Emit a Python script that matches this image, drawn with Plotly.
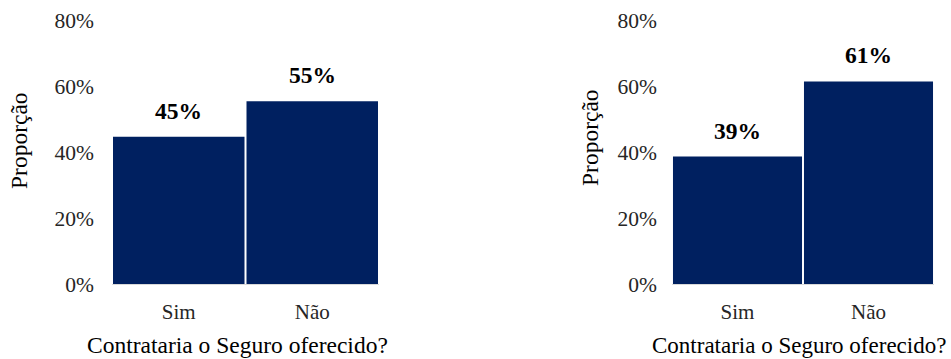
import plotly.graph_objects as go

categories = ["Sim", "Não"]
values_left = [0.446, 0.554]
values_right = [0.386, 0.614]
y_ticks = [0, 0.2, 0.4, 0.6, 0.8]
y_tick_labels = ["0%", "20%", "40%", "60%", "80%"]
x_title = "Contrataria o Seguro oferecido?"
y_title = "Proporção"

W, H = 951, 359
BAR_COLOR = "#002060"
TEXT = "#262626"
FONT = "Liberation Serif"

fig = go.Figure()
fig.add_trace(go.Bar(x=categories, y=values_left, marker=dict(color=BAR_COLOR, line=dict(width=0)),
                     xaxis="x", yaxis="y", showlegend=False, hoverinfo="skip"))
fig.add_trace(go.Bar(x=categories, y=values_right, marker=dict(color=BAR_COLOR, line=dict(width=0)),
                     xaxis="x2", yaxis="y2", showlegend=False, hoverinfo="skip"))

ytop, ybot = 20, 284
ydom = [1 - ybot / H, 1 - ytop / H]
xdom1 = [112 / W, 379 / W]
xdom2 = [672 / W, 934 / W]

common_x = dict(type="category", range=[-0.5, 1.5], showgrid=False, zeroline=False,
                showline=True, linecolor="#d9d9d9", linewidth=1, ticks="",
                tickfont=dict(family=FONT, size=21, color=TEXT), ticklabelstandoff=9,
                fixedrange=True)
common_y = dict(range=[0, 0.8], tickvals=y_ticks, ticktext=y_tick_labels, showgrid=False,
                zeroline=False, showline=False, ticks="",
                tickfont=dict(family=FONT, size=21.5, color=TEXT), fixedrange=True)

fig.update_layout(
    width=W, height=H, margin=dict(l=0, r=0, t=0, b=0, autoexpand=False),
    paper_bgcolor="white", plot_bgcolor="white", bargap=0.015,
    font=dict(family=FONT),
    xaxis=dict(domain=xdom1, anchor="y", **common_x),
    yaxis=dict(domain=ydom, anchor="x", ticklabelstandoff=17, **common_y),
    xaxis2=dict(domain=xdom2, anchor="y2", **common_x),
    yaxis2=dict(domain=ydom, anchor="x2", ticklabelstandoff=14, **common_y),
)

annotations = []
# value labels above bars
for xref, yref, vals in [("x", "y", values_left), ("x2", "y2", values_right)]:
    for c, v in zip(categories, vals):
        annotations.append(dict(x=c, y=v, xref=xref, yref=yref, text=f"<b>{round(v * 100)}%</b>",
                                showarrow=False, yanchor="bottom", yshift=11,
                                font=dict(family=FONT, size=23.5, color="black")))
annotations.append(dict(x=237 / W, y=1 - 345 / H, xref="paper", yref="paper", text=x_title,
                        showarrow=False, xanchor="center", yanchor="middle",
                        font=dict(family=FONT, size=23.5, color="black")))
annotations.append(dict(x=948 / W, y=1 - 345 / H, xref="paper", yref="paper", text=x_title,
                        showarrow=False, xanchor="right", yanchor="middle",
                        font=dict(family=FONT, size=23, color="black")))
annotations.append(dict(x=19 / W, y=1 - 141 / H, xref="paper", yref="paper", text=y_title,
                        showarrow=False, textangle=-90, xanchor="center", yanchor="middle",
                        font=dict(family=FONT, size=23.5, color="black")))
annotations.append(dict(x=590 / W, y=1 - 138 / H, xref="paper", yref="paper", text=y_title,
                        showarrow=False, textangle=-90, xanchor="center", yanchor="middle",
                        font=dict(family=FONT, size=23.5, color="black")))
fig.update_layout(annotations=annotations)

fig.write_html("out.html", config=dict(displayModeBar=False))
